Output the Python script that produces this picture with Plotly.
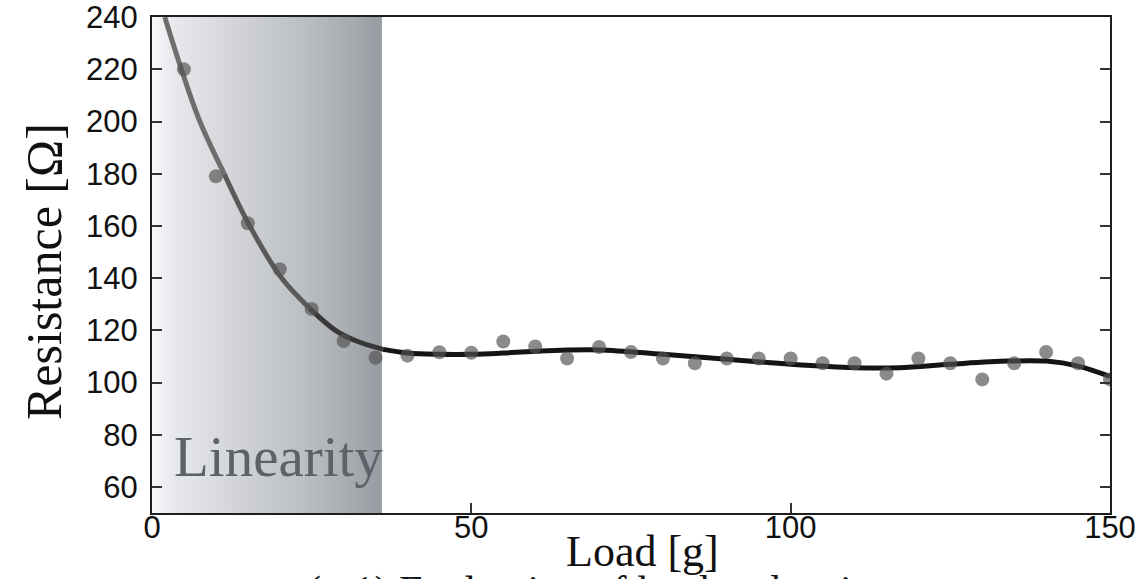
import plotly.graph_objects as go

# Measured resistance vs. applied load
load_g = [5, 10, 15, 20, 25, 30, 35, 40, 45, 50, 55, 60, 65, 70, 75,
          80, 85, 90, 95, 100, 105, 110, 115, 120, 125, 130, 135, 140, 145, 150]
resistance_ohm = [220, 179, 161, 143.4, 128.2, 115.9, 109.5, 110.3, 111.6, 111.4,
                  115.7, 113.8, 109.2, 113.6, 111.7, 109.2, 107.4, 109.2, 109.2, 109.2,
                  107.4, 107.4, 103.4, 109.2, 107.4, 101.2, 107.4, 111.7, 107.4, 101.2]

# Smoothed trend curve through the measurements
fit_load = [2.0, 4.6, 7.5, 11.3, 15.3, 20.3, 24.7, 28.7, 32.0, 36.2, 40, 45, 50,
            55, 60, 70, 80, 90, 100, 110, 117, 125, 134, 140, 145, 150]
fit_res = [240, 220, 200, 180, 160, 140, 128.4, 120, 115.9, 112.7, 111.3, 110.8, 110.8,
           111.3, 112, 112.5, 110.8, 108.9, 107, 105.7, 105.7, 107, 108.2, 108.2, 106.3, 102.3]

# Curve colour darkens from grey to black along the load axis
fit_groups = [(0, 3, "#6e6e6e"), (3, 6, "#5a5a5a"), (6, 9, "#383838"), (9, 25, "#141414")]

# Shaded linear-response region
linear_region = [0, 36]
linear_label = "Linearity"

x_ticks = [0, 50, 100, 150]
y_ticks = [60, 80, 100, 120, 140, 160, 180, 200, 220, 240]
x_range = [0, 150]
y_range = [50, 240.05]

x_title = "Load [g]"
y_title = "Resistance [Ω]"
caption = "(a-1) Evaluation of load and resistance"

W, H = 1148, 579
L, R, T, B = 152, 38, 17, 66
pw, ph = W - L - R, H - T - B


def px_x(p):
    return (p - L) / pw


def px_y(p):
    return (H - B - p) / ph


fig = go.Figure()

fig.add_trace(go.Scatter(
    x=[linear_region[0], linear_region[1], linear_region[1], linear_region[0]],
    y=[y_range[0], y_range[0], y_range[1], y_range[1]],
    mode="lines", line=dict(width=0), fill="toself",
    fillgradient=dict(type="horizontal", colorscale=[
        [0.0, "#f8f9fb"], [0.08, "#e9eaed"], [0.35, "#d3d5d8"],
        [0.65, "#bcbfc3"], [0.88, "#a6a9ae"], [1.0, "#979ba2"]]),
    hoverinfo="skip", showlegend=False,
))

for i0, i1, col in fit_groups:
    fig.add_trace(go.Scatter(
        x=fit_load[i0:i1 + 1], y=fit_res[i0:i1 + 1], mode="lines",
        line=dict(color=col, width=5, shape="spline", smoothing=1.0),
        showlegend=False,
    ))

fig.add_trace(go.Scatter(
    x=load_g, y=resistance_ohm, mode="markers",
    marker=dict(size=14, color="rgb(84,84,84)", opacity=0.68, line=dict(width=0)),
    showlegend=False,
))

axis_common = dict(
    showgrid=False, zeroline=False, showline=True, linecolor="#1e1e1e", linewidth=2,
    ticks="inside", ticklen=10, tickwidth=1.5, tickcolor="#333",
    ticklabeloverflow="allow", automargin=False,
    tickfont=dict(family="Liberation Sans, Arial, sans-serif", size=31, color="#111"),
)

fig.update_xaxes(range=x_range, tickvals=x_ticks, mirror=True, ticklabelstandoff=-14,
                 **axis_common)
fig.update_yaxes(range=y_range, tickvals=y_ticks, mirror="ticks", ticklabelstandoff=6,
                 **axis_common)

serif = "Liberation Serif, Times New Roman, serif"
fig.add_annotation(text=linear_label, xref="paper", yref="paper",
                   x=px_x(172), y=px_y(456), xanchor="left", yanchor="middle",
                   showarrow=False, font=dict(family=serif, size=57, color="#5d6168"))
fig.add_annotation(text=x_title, xref="paper", yref="paper",
                   x=px_x(642), y=px_y(551), xanchor="center", yanchor="middle",
                   showarrow=False, font=dict(family=serif, size=44, color="#111"))
fig.add_annotation(text=y_title, xref="paper", yref="paper", textangle=-90,
                   x=px_x(44), y=px_y(272), xanchor="center", yanchor="middle",
                   showarrow=False, font=dict(family=serif, size=50, color="#111"))
fig.add_annotation(text=caption, xref="paper", yref="paper",
                   x=px_x(632), y=px_y(566), xanchor="center", yanchor="top",
                   showarrow=False, font=dict(family=serif, size=42, color="#111"))

fig.update_layout(
    width=W, height=H, autosize=False,
    margin=dict(l=L, r=R, t=T, b=B, pad=0),
    paper_bgcolor="white", plot_bgcolor="white",
)

fig.write_html("out.html")
